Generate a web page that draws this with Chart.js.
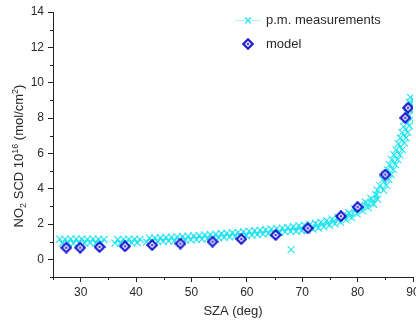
<!DOCTYPE html>
<html>
<head>
<meta charset="utf-8">
<script src="https://cdn.jsdelivr.net/npm/chart.js@4/dist/chart.umd.min.js"></script>
<style>
html,body{margin:0;padding:0;background:#fff;}
#wrap{width:416px;height:320px;overflow:hidden;position:relative;}
canvas{display:block;}
</style>
</head>
<body>
<div id="wrap"><canvas id="c" width="430" height="320" style="width:430px;height:320px"></canvas></div>
<script>
// ---- data ----
const measX = [26.2,26.7,27.2,27.7,28.2,28.7,29.2,29.7,30.2,30.7,31.2,31.7,32.2,32.7,33.2,33.7,34.2,
  36.2,36.7,37.2,37.7,38.2,38.7,39.2,39.7,40.2,40.7,
  41.9,42.4,42.9,43.4,43.9,44.4,44.9,45.4,45.9,46.4,46.9,47.4,47.9,48.4,48.9,49.4,49.9,50.4,50.9,51.4,51.9,52.4,52.9,53.4,53.9,54.4,54.9,55.4,55.9,56.4,56.9,57.4,57.9,58.4,58.9,59.4,59.9,60.4,60.9,61.4,61.9,62.4,62.9,63.4,63.9,64.4,64.9,65.4,65.9,66.4,66.9,67.4,67.9,
  68.4,68.9,69.4,69.9,70.4,70.9,71.4,71.9,72.4,72.9,73.4,73.9,74.4,74.9,75.4,75.9,76.4,76.9,77.4,77.9,78.4,78.9,79.4,79.9,80.4,80.9,81.4,81.9,82.4,82.9,83.3,83.6,
  83.55,84.7,84.05,85.2,84.55,85.65,84.95,86.05,85.35,86.45,85.75,86.85,86.15,87.25,86.55,87.65,86.95,88.05,87.35,88.45,87.7,88.75,88.0,89.05,88.3,89.35,88.6,89.65,88.9,89.95,89.15,90.15,89.35,90.35,89.55];
const measY = [1.14,0.92,1.13,0.93,1.15,0.91,1.14,0.93,1.15,0.92,1.13,0.94,1.15,0.92,1.14,0.93,1.12,
  0.92,1.12,0.91,1.13,0.92,1.14,0.93,1.14,0.94,1.13,
  0.99,1.20,1.00,1.21,1.01,1.22,1.02,1.24,1.03,1.25,1.05,1.27,1.07,1.29,1.09,1.31,1.10,1.33,1.12,1.35,1.14,1.38,1.17,1.40,1.19,1.43,1.22,1.46,1.24,1.48,1.27,1.51,1.29,1.53,1.32,1.56,1.34,1.59,1.37,1.62,1.40,1.65,1.43,1.68,1.46,1.71,1.49,1.74,1.52,1.77,1.55,1.80,1.58,
  1.86,1.58,1.90,1.62,1.94,1.66,1.98,1.71,2.04,1.77,2.11,1.84,2.19,1.92,2.28,2.01,2.39,2.11,2.51,2.23,2.64,2.36,2.85,2.58,3.05,2.75,3.25,2.93,3.45,3.12,3.66,3.40,
  3.92,3.90,4.17,4.20,4.52,4.52,4.80,4.80,5.08,5.08,5.36,5.36,5.64,5.64,5.92,5.92,6.20,6.21,6.53,6.58,6.87,6.88,7.17,7.19,7.51,7.56,7.88,7.94,8.28,8.33,8.61,8.61,8.89,8.89,9.17];
const outlierX = [68.0];
const outlierY = [0.55];
const modelX = [27.4,29.9,33.4,38.0,42.9,48.0,53.8,59.0,65.2,71.0,77.0,80.0,85.0,88.6,89.1];
const modelY = [0.66,0.66,0.70,0.74,0.81,0.89,1.00,1.15,1.38,1.76,2.44,2.96,4.80,8.01,8.58];
const xTicks = [30,40,50,60,70,80,90];
const xMinorTicks = [25,35,45,55,65,75,85];
const yTicks = [0,2,4,6,8,10,12,14];
const yMinorTicks = [-1,1,3,5,7,9,11,13];
const seriesNames = ['p.m. measurements','model'];

// ---- styles ----
const CYAN = '#22e4ee';
const CYAN_LINE = 'rgba(20,226,236,0.8)';
const CYAN_FAINT = 'rgba(20,226,236,0.35)';
const BLUE = '#1a1ad0';
const TXT = '#2a2a2a';
const FONT = '"Liberation Sans", Arial, sans-serif';

function makeDiamond(){
  const c = document.createElement('canvas');
  c.width = 12; c.height = 12;
  const g = c.getContext('2d');
  g.beginPath();
  g.moveTo(6,1.3); g.lineTo(10.7,6); g.lineTo(6,10.7); g.lineTo(1.3,6); g.closePath();
  g.fillStyle = '#e2e2ff'; g.fill();
  g.lineWidth = 2.1; g.strokeStyle = BLUE; g.stroke();
  g.beginPath(); g.arc(6,6,1.1,0,Math.PI*2); g.fillStyle = BLUE; g.fill();
  return c;
}
const diamond = makeDiamond();

const toPts = (xs, ys) => xs.map((x,i)=>({x:x, y:ys[i]}));

const extras = {
  id: 'extras',
  afterDraw(chart){
    const ctx = chart.ctx;
    const xs = chart.scales.x, ys = chart.scales.y;
    const ca = chart.chartArea;
    ctx.save();
    ctx.strokeStyle = '#222'; ctx.lineWidth = 1;
    ctx.beginPath();
    yMinorTicks.forEach(v=>{ const p = Math.round(ys.getPixelForValue(v))+0.5; ctx.moveTo(ca.left-3, p); ctx.lineTo(ca.left, p); });
    xMinorTicks.forEach(v=>{ const p = Math.round(xs.getPixelForValue(v))+0.5; ctx.moveTo(p, ca.bottom); ctx.lineTo(p, ca.bottom+3); });
    ctx.stroke();
    const segs = [['NO',13,0],['2',9,2.8],[' SCD 10',13,0],['16',9,-5.5],[' (mol/cm',13,0],['2',9,-5.5],[')',13,0]];
    let total = 0;
    segs.forEach(s=>{ ctx.font = s[1]+'px '+FONT; total += ctx.measureText(s[0]).width; });
    ctx.translate(23, 156);
    ctx.rotate(-Math.PI/2);
    ctx.fillStyle = TXT; ctx.textBaseline = 'alphabetic'; ctx.textAlign = 'left';
    let tx = -total/2;
    segs.forEach(s=>{ ctx.font = s[1]+'px '+FONT; ctx.fillText(s[0], tx, s[2]); tx += ctx.measureText(s[0]).width; });
    ctx.setTransform(1,0,0,1,0,0);
    const ly1 = 20.5, ly2 = 44;
    ctx.strokeStyle = CYAN_FAINT; ctx.lineWidth = 1;
    ctx.beginPath(); ctx.moveTo(235, ly1); ctx.lineTo(261, ly1); ctx.stroke();
    ctx.strokeStyle = CYAN; ctx.lineWidth = 1.2;
    ctx.beginPath(); ctx.moveTo(245, ly1-3); ctx.lineTo(251, ly1+3); ctx.moveTo(251, ly1-3); ctx.lineTo(245, ly1+3); ctx.stroke();
    ctx.drawImage(diamond, 248-6, ly2-6);
    ctx.fillStyle = TXT; ctx.font = '13px '+FONT; ctx.textBaseline = 'middle';
    ctx.fillText(seriesNames[0], 266, ly1);
    ctx.fillText(seriesNames[1], 266, ly2);
    ctx.restore();
  }
};

new Chart(document.getElementById('c'), {
  type: 'scatter',
  data: {
    datasets: [
      { label: seriesNames[1], data: toPts(modelX, modelY), pointStyle: diamond, pointRadius: 6, showLine: false, order: 0 },
      { label: seriesNames[0], data: toPts(measX, measY), showLine: true, borderColor: CYAN_LINE, borderWidth: 2,
        segment: { borderColor: c => (c.p1.parsed.x - c.p0.parsed.x > 1 ? CYAN_FAINT : CYAN_LINE), borderWidth: c => (c.p1.parsed.x - c.p0.parsed.x > 1 ? 1 : 2) },
        pointStyle: 'crossRot', pointRadius: 5, pointBorderColor: CYAN, pointBorderWidth: 1.1, pointBackgroundColor: CYAN, order: 2 },
      { label: 'outlier', data: toPts(outlierX, outlierY), showLine: false,
        pointStyle: 'crossRot', pointRadius: 5, pointBorderColor: CYAN, pointBorderWidth: 1.1, order: 2 }
    ]
  },
  options: {
    responsive: false,
    animation: false,
    devicePixelRatio: 1,
    layout: { padding: { left: 0, top: 12, right: 17, bottom: 0 } },
    plugins: { legend: { display: false }, tooltip: { enabled: false } },
    scales: {
      x: {
        type: 'linear', min: 25, max: 90,
        afterBuildTicks: s => { s.ticks = xTicks.map(v=>({value:v})); },
        afterFit: s => { s.height = 43; },
        grid: { drawOnChartArea: false, drawTicks: true, tickLength: 5, color: '#222' },
        border: { display: true, color: '#222', width: 1 },
        ticks: { color: TXT, font: { family: FONT, size: 12 }, padding: 3, maxRotation: 0 },
        title: { display: true, text: 'SZA (deg)', color: TXT, font: { family: FONT, size: 13 }, padding: { top: 0, bottom: 1 } }
      },
      y: {
        type: 'linear', min: -1, max: 14,
        afterBuildTicks: s => { s.ticks = yTicks.map(v=>({value:v})); },
        afterFit: s => { s.width = 53; },
        grid: { drawOnChartArea: false, drawTicks: true, tickLength: 5, color: '#222' },
        border: { display: true, color: '#222', width: 1 },
        ticks: { color: TXT, font: { family: FONT, size: 12 }, padding: 4 },
        title: { display: false }
      }
    }
  },
  plugins: [extras]
});
</script>
</body>
</html>
